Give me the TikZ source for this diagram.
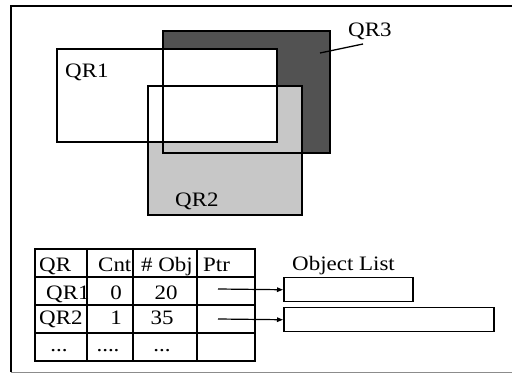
\documentclass[tikz,border=0pt]{standalone}
\usepackage{fontspec}
\setmainfont{Liberation Serif}[FakeStretch=1.12]
\usetikzlibrary{arrows.meta}
\begin{document}
\begin{tikzpicture}[x=1pt,y=-1pt,
  txt/.style={inner sep=0pt,font=\fontsize{20.5}{24}\selectfont},
  edge/.style={line width=1.5pt,black},
  grid/.style={line width=1.6pt,black},
  objbox/.style={draw,line width=1.5pt,inner sep=0pt,anchor=north west},
  ptr/.style={line width=1.2pt,-{Triangle[length=6pt,width=4.5pt]}}]
\useasboundingbox (0,0) rectangle (512,374);
% outer frame
\coordinate (f1) at (11,372);
\coordinate (f2) at (11,6);
\coordinate (f3) at (512,6);
\coordinate (f4) at (512,372);
\draw[line width=1.5pt] (f1) -- (f2) -- (f3);
\draw[line width=0.6pt,black!45] (f1) -- (f4);
% region corners
\coordinate (r3a) at (163,31);  \coordinate (r3b) at (330,153);
\coordinate (r2a) at (148,86);  \coordinate (r2b) at (302,215);
\coordinate (r1a) at (57,49);   \coordinate (r1b) at (277,142);
\fill[black!68] (r3a) rectangle (r3b);
\fill[black!22] (r2a) rectangle (r2b);
\fill[white] (r1a) rectangle (r1b);
\draw[edge] (r3a) rectangle (r3b);
\draw[edge] (r2a) rectangle (r2b);
\draw[edge] (r1a) rectangle (r1b);
\node[txt,anchor=base west] (lqr1) at (65,78) {QR1};
\node[txt,anchor=base west] (lqr2) at (175,207) {QR2};
\node[txt,anchor=base west] (lqr3) at (348,37) {QR3};
\coordinate (q3tip) at (320,53);
\coordinate (q3end) at (363,44);
\draw[line width=1.3pt] (q3tip) -- (q3end);
% table grid
\draw[grid] (35,249) rectangle (255,361);
\foreach \yy in {277,305,333} \draw[grid] (35,\yy) -- (255,\yy);
\foreach \xx in {87,133,197} \draw[grid] (\xx,249) -- (\xx,361);
% header
\node[txt,anchor=base west] (hqr) at (39,272) {QR};
\node[txt,anchor=base west] (hcnt) at (98,272) {Cnt};
\node[txt,anchor=base west] (hobj) at (141,272) {\# Obj};
\node[txt,anchor=base west] (hptr) at (203,272) {Ptr};
% rows
\node[txt,anchor=base west] (c21) at (46,300) {QR1};
\node[txt,anchor=base] (c22) at (116,300) {0};
\node[txt,anchor=base] (c23) at (166,300) {20};
\node[txt,anchor=base west] (c31) at (39,325) {QR2};
\node[txt,anchor=base] (c32) at (116,325) {1};
\node[txt,anchor=base] (c33) at (162,325) {35};
\node[txt,anchor=base] (c41) at (59,352) {...};
\node[txt,anchor=base] (c42) at (108,352) {....};
\node[txt,anchor=base] (c43) at (162,352) {...};
% object list
\node[txt,anchor=base west] (olab) at (292,271) {Object List};
\node[objbox,minimum width=129pt,minimum height=24pt] (ol1) at (283,277) {};
\node[objbox,minimum width=210pt,minimum height=24pt] (ol2) at (283,307) {};
\coordinate (p1) at (218,289);
\coordinate (p2) at (218,319);
\draw[ptr] (p1) -- (ol1.west);
\draw[ptr] (p2) -- (ol2.west);
\end{tikzpicture}
\end{document}
